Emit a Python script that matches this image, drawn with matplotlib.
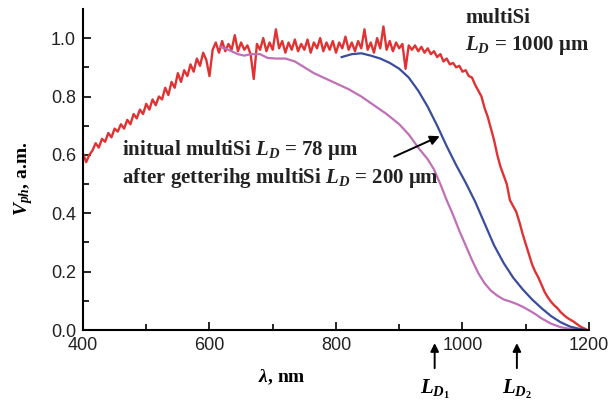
import numpy as np
import matplotlib.pyplot as plt

plt.rcParams['mathtext.fontset'] = 'custom'
plt.rcParams['mathtext.it'] = 'Liberation Serif:italic:bold'
plt.rcParams['mathtext.rm'] = 'Liberation Serif:bold'
plt.rcParams['mathtext.bf'] = 'Liberation Serif:bold'

# multiSi, L_D = 1000 um (red, noisy), 5 nm step from 400 to 1195 nm
red_wl = np.arange(400, 1200, 5)
red_v = [
    .605, .575, .600, .615, .640, .625, .655, .645, .675, .660,
    .690, .680, .705, .690, .720, .705, .740, .725, .755, .740,
    .775, .755, .790, .770, .800, .790, .830, .805, .850, .830,
    .880, .850, .890, .870, .910, .885, .930, .905, .950, .925,
    .870, .960, .985, .950, .990, .955, .980, .960, 1.010, .955,
    .985, .960, .975, .945, .860, .980, .960, 1.000, .955, .985,
    .960, 1.030, .965, .990, .950, .985, .960, .995, .955, .980,
    .960, .995, .950, .985, .965, 1.000, .955, .985, .960, .990,
    .950, .985, .965, 1.005, .960, .985, .955, .990, .965, 1.030,
    .960, .985, .950, 1.000, .965, 1.040, .960, .990, .955, .985,
    .965, .980, .895, .975, .960, .975, .955, .970, .950, .965,
    .945, .955, .935, .945, .920, .930, .910, .915, .900, .905,
    .885, .890, .870, .865, .840, .820, .800, .760, .730, .690,
    .650, .600, .560, .530, .500, .445, .425, .405, .370, .330,
    .295, .260, .225, .200, .180, .155, .130, .112, .097, .085,
    .075, .062, .052, .043, .036, .030, .022, .014, .008, .003,
]

# after gettering multiSi, L_D = 200 um (blue)
blue_wl = [809, 825, 840, 855, 870, 885, 900, 915, 930, 945, 960, 975, 990,
           1005, 1020, 1035, 1050, 1065, 1080, 1095, 1110, 1125, 1140, 1155,
           1170, 1185, 1195]
blue_v = [0.935, 0.945, 0.948, 0.94, 0.93, 0.915, 0.895, 0.865, 0.82, 0.765,
          0.70, 0.63, 0.565, 0.505, 0.44, 0.365, 0.29, 0.23, 0.18, 0.14, 0.105,
          0.075, 0.048, 0.027, 0.012, 0.004, 0.0]

# initial multiSi, L_D = 78 um (magenta)
mag_wl = [617, 630, 645, 655, 665, 680, 692, 705, 720, 735, 750, 765, 780, 800,
          820, 840, 860, 880, 900, 915, 930, 945, 955, 965, 975, 985, 995, 1005,
          1015, 1025, 1035, 1045, 1055, 1065, 1075, 1085, 1095, 1105, 1115,
          1125, 1140, 1155, 1170, 1185]
mag_v = [0.97, 0.96, 0.945, 0.94, 0.945, 0.945, 0.932, 0.93, 0.93, 0.92, 0.90,
         0.88, 0.865, 0.845, 0.825, 0.80, 0.77, 0.74, 0.705, 0.67, 0.625, 0.585,
         0.55, 0.50, 0.445, 0.395, 0.34, 0.29, 0.24, 0.195, 0.16, 0.135, 0.118,
         0.105, 0.098, 0.09, 0.08, 0.068, 0.055, 0.04, 0.022, 0.01, 0.004, 0.0]

ld_marks = [956, 1086]

fig = plt.figure(figsize=(6.12, 4.05), dpi=100)
ax = fig.add_axes([0.1356, 0.185, 0.8268, 0.793])

ax.plot(red_wl, red_v, color='#e03232', lw=1.7)
ax.plot(mag_wl, mag_v, color='#c070b8', lw=1.6)
ax.plot(blue_wl, blue_v, color='#3a4c9e', lw=1.6)

ax.set_xlim(400, 1200)
ax.set_ylim(0, 1.1)
ax.set_xticks([400, 600, 800, 1000, 1200])
ax.set_xticks([500, 700, 900, 1100], minor=True)
ax.set_yticks([0.0, 0.2, 0.4, 0.6, 0.8, 1.0])
ax.set_yticks([0.1, 0.3, 0.5, 0.7, 0.9], minor=True)
ax.set_yticklabels(['0.0', '0.2', '0.4', '0.6', '0.8', '1.0'])
ax.tick_params(which='major', direction='in', length=6, width=1.2,
               labelsize=13, pad=5, labelcolor='#222222')
ax.tick_params(which='minor', direction='in', length=4, width=1.2)
for lbl in ax.get_xticklabels() + ax.get_yticklabels():
    lbl.set_family('Liberation Sans')
for s in ['top', 'right']:
    ax.spines[s].set_visible(False)
for s in ['left', 'bottom']:
    ax.spines[s].set_linewidth(1.5)

ax.set_xlabel(r'$\lambda$, nm', fontsize=14, family='Liberation Serif',
              fontweight='bold')
ax.xaxis.set_label_coords(0.393, -0.115)
ax.set_ylabel(r'$V_{ph}$, a.m.', fontsize=14, family='Liberation Serif',
              fontweight='bold')
ax.yaxis.set_label_coords(-0.095, 0.47)

txt = dict(fontsize=15, family='Liberation Serif', fontweight='bold',
           color='#222222', va='baseline')
ax.text(1004, 1.051, 'multiSi', **txt)
ax.text(1004, 0.959, r'$L_D$ = 1000 μm', **txt)
ax.text(462, 0.599, r'initual multiSi $L_D$ = 78 μm', **txt)
ax.text(462, 0.503, r'after getterihg multiSi $L_D$ = 200 μm', **txt)

ax.annotate('', xy=(968, 0.668), xytext=(888, 0.59),
            arrowprops=dict(arrowstyle='-|>', color='black', lw=1.4,
                            mutation_scale=14))

for i, wl in enumerate(ld_marks):
    ax.annotate('', xy=(wl, -0.035), xytext=(wl, -0.14),
                xycoords='data', annotation_clip=False,
                arrowprops=dict(arrowstyle='-|>', color='black', lw=1.4,
                                mutation_scale=12))
    ax.text(wl, -0.165, r'$L_{D_%d}$' % (i + 1), ha='center', va='top',
            fontsize=15, family='Liberation Serif', clip_on=False)

fig.savefig('out.png', dpi=100)
